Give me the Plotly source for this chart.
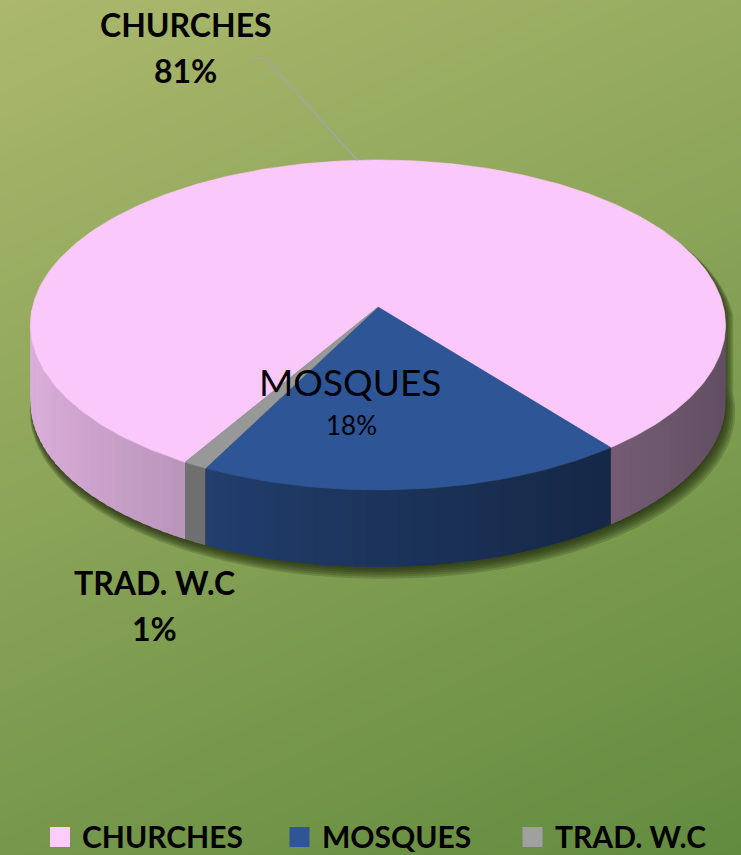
import numpy as np
import plotly.graph_objects as go

# ---------------- data ----------------
categories = ["CHURCHES", "MOSQUES", "TRAD. W.C"]
values = [81, 18, 1]
pct_labels = ["81%", "18%", "1%"]

# ---------------- style ----------------
top_colors = [(250, 200, 250), (46, 85, 150), (152, 152, 152)]
legend_colors = ["rgb(255,204,255)", "rgb(46,85,150)", "rgb(160,160,160)"]
W, H = 741, 855
CX, CY = 378.0, 307.0     # projected pie centre (px)
RX, RY = 345.5, 163.0     # ellipse radii
K = 0.109                 # perspective factor
DEPTH = 77.0              # pie thickness
ROT = 120.4               # start angle of first slice (deg, clockwise from 3 o'clock)
FONT = "Lato"


def proj(theta_deg, dy=0.0):
    t = np.radians(theta_deg)
    u, v = np.cos(t), np.sin(t)
    w = 1 - K * v
    return CX + RX * u / w, CY + RY * v / w + dy


def rgb(c, s=1.0):
    return "rgb(%d,%d,%d)" % tuple(int(round(min(255, x * s))) for x in c)


def shade(theta):
    th = np.radians(theta % 360)
    return 0.39 + 0.49 * ((1 - np.cos(th)) / 2) ** 1.15


fig = go.Figure()

# ---------------- background gradient ----------------
gx = np.linspace(-10, W + 10, 14)
gy = np.linspace(-10, H + 10, 14)
GX, GY = np.meshgrid(gx / W, gy / H)
fig.add_trace(go.Heatmap(
    x=gx, y=gy, z=0.28 * GX + 0.72 * GY, zmin=0, zmax=1, zsmooth="best",
    colorscale=[[0, "rgb(171,184,109)"], [1, "rgb(98,139,63)"]],
    showscale=False, hoverinfo="skip"))

# ---------------- slice angles from data ----------------
total = float(sum(values))
bounds = []
acc = 0.0
for v in values:
    a0 = ROT + 360.0 * acc / total
    acc += v
    a1 = ROT + 360.0 * acc / total
    bounds.append((a0, a1))

# ---------------- shadow ----------------
sil_t = np.concatenate([np.linspace(0, 180, 90), np.linspace(180, 360, 90)])
for i in range(6):
    dx = 1.0 + i * 0.7
    dy = 2.0 + i * 1.2
    xs, ys = [], []
    for t in sil_t:
        if t <= 180:
            x, y = proj(t, DEPTH)
        else:
            x, y = proj(t)
        sx = CX + (x - CX) * (1 + 0.003 * i) + dx
        sy = CY + (y - CY) * (1 + 0.003 * i) + dy
        xs.append(sx)
        ys.append(sy)
    fig.add_trace(go.Scatter(x=xs, y=ys, fill="toself", mode="lines",
                             line=dict(width=0), fillcolor="rgba(30,40,10,0.2)",
                             hoverinfo="skip", showlegend=False))

# ---------------- side walls ----------------
strips = []
for idx, (a0, a1) in enumerate(bounds):
    for off in (0.0, 360.0, -360.0):
        lo = max(a0, 0.0 + off)
        hi = min(a1, 180.0 + off)
        if hi <= lo:
            continue
        n = max(1, int(np.ceil((hi - lo) / 2.0)))
        edges = np.linspace(lo, hi, n + 1)
        for j in range(n):
            s0, s1 = edges[j], edges[j + 1]
            e0 = s0 - 0.35 if j > 0 else s0
            e1 = s1 + 0.35 if j < n - 1 else s1
            ts = np.linspace(e0, e1, 4)
            xs, ys = [], []
            for t in ts:
                x, y = proj(t)
                xs.append(x); ys.append(y)
            for t in ts[::-1]:
                x, y = proj(t, DEPTH)
                xs.append(x); ys.append(y)
            mid = (s0 + s1) / 2
            strips.append((np.sin(np.radians(mid)), xs, ys, rgb(top_colors[idx], shade(mid))))

strips.sort(key=lambda s: s[0])
for _, xs, ys, col in strips:
    fig.add_trace(go.Scatter(x=xs + [xs[0]], y=ys + [ys[0]], fill="toself", mode="lines",
                             line=dict(width=0), fillcolor=col,
                             hoverinfo="skip", showlegend=False))

# ---------------- top faces ----------------
for idx, (a0, a1) in enumerate(bounds):
    n = max(3, int(np.ceil((a1 - a0) / 1.0)))
    ts = np.linspace(a0, a1, n + 1)
    xs, ys = [CX], [CY]
    for t in ts:
        x, y = proj(t)
        xs.append(x); ys.append(y)
    xs.append(CX); ys.append(CY)
    col = rgb(top_colors[idx])
    fig.add_trace(go.Scatter(x=xs, y=ys, fill="toself", mode="lines",
                             line=dict(width=0.6, color=col), fillcolor=col,
                             name=categories[idx], hoverinfo="skip", showlegend=False))

# ---------------- leader line for CHURCHES ----------------
mid0 = (bounds[0][0] + bounds[0][1]) / 2
ex, ey = proj(mid0)
fig.add_trace(go.Scatter(x=[253, 265, ex], y=[58, 58, ey], mode="lines",
                         line=dict(color="rgb(165,165,165)", width=1.6),
                         hoverinfo="skip", showlegend=False))

# ---------------- data labels ----------------
ann = []
def label(x, y, text, size, bold=True, anchor="center"):
    ann.append(dict(x=x, y=y, xref="x", yref="y", text=("<b>%s</b>" % text) if bold else text,
                    showarrow=False, xanchor=anchor, yanchor="middle",
                    font=dict(family=FONT, size=size, color="black")))

label(186, 24, categories[0], 32)
label(185, 70, pct_labels[0], 32)
label(350, 381, categories[1], 37, bold=False)
label(351, 425, pct_labels[1], 26, bold=False)
label(154, 582, categories[2], 32)
label(154, 628, pct_labels[2], 32)

# ---------------- legend ----------------
leg_sq_x = [60, 299.5, 532.5]
leg_tx_x = [80, 320, 553]
leg_y = 836
fig.add_trace(go.Scatter(x=leg_sq_x, y=[leg_y + 1] * 3, mode="markers",
                         marker=dict(symbol="square", size=20, color=legend_colors,
                                     line=dict(width=0)),
                         hoverinfo="skip", showlegend=False))
for i, c in enumerate(categories):
    label(leg_tx_x[i], leg_y, c, 30, anchor="left")

fig.update_layout(
    width=W, height=H, margin=dict(l=0, r=0, t=0, b=0),
    paper_bgcolor="rgb(140,165,88)", plot_bgcolor="rgba(0,0,0,0)",
    xaxis=dict(range=[0, W], visible=False, fixedrange=True),
    yaxis=dict(range=[H, 0], visible=False, fixedrange=True),
    annotations=ann, showlegend=False,
)
fig.write_html("out.html", config={"displayModeBar": False},
               post_script="document.body.style.margin='0';document.body.style.padding='0';"
                           "document.body.style.overflow='hidden';")
